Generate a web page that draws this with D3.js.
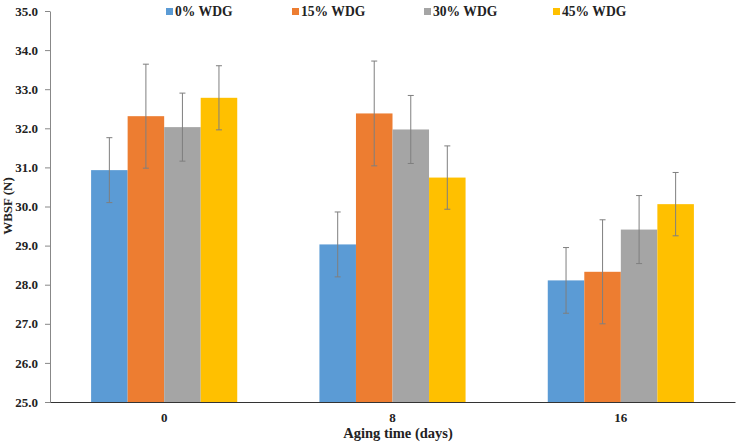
<!DOCTYPE html>
<html><head><meta charset="utf-8">
<script src="https://cdn.jsdelivr.net/npm/d3@7"></script>
<style>body{margin:0;background:#fff}svg{display:block}text{font-family:"Liberation Serif","Times New Roman",serif;font-weight:bold;fill:#222}</style>
</head><body><svg id="c" width="736" height="444"></svg>
<script>
const categories = ["0", "8", "16"];
const seriesNames = ["0% WDG", "15% WDG", "30% WDG", "45% WDG"];
const colors = ["#5B9BD5", "#ED7D31", "#A5A5A5", "#FFC000"];
const wdg0 = [30.93, 29.03, 28.11];
const wdg15 = [32.31, 32.38, 28.33];
const wdg30 = [32.03, 31.97, 29.41];
const wdg45 = [32.78, 30.74, 30.06];
const err0 = [0.83, 0.83, 0.84];
const err15 = [1.33, 1.34, 1.33];
const err30 = [0.87, 0.87, 0.87];
const err45 = [0.82, 0.81, 0.81];
const yTicks = [25, 26, 27, 28, 29, 30, 31, 32, 33, 34, 35];

const values = [wdg0, wdg15, wdg30, wdg45];
const errs = [err0, err15, err30, err45];

const svg = d3.select("#c");
const L = 50, R = 735, T = 11, B = 402;
const x = d3.scaleBand().domain(categories).range([L, R]).paddingInner(0.36).paddingOuter(0.18);
const xs = d3.scaleBand().domain(seriesNames).range([0, x.bandwidth()]);
const y = d3.scaleLinear().domain([25, 35]).range([B, T]);

// y axis
const ya = svg.append("g").attr("transform", `translate(${L},0)`)
  .call(d3.axisLeft(y).tickValues(yTicks).tickFormat(d3.format(".1f")).tickSize(5).tickSizeOuter(0));
ya.select(".domain").attr("stroke", "#888");
ya.selectAll(".tick line").attr("stroke", "#888");
ya.selectAll("text").attr("font-size", 13).attr("x", -12).style("fill", "#222");

// bars
const data = [];
categories.forEach((c, i) => seriesNames.forEach((s, j) => data.push({c, s, j, v: values[j][i], e: errs[j][i]})));
svg.append("g").selectAll("rect").data(data).join("rect")
  .attr("x", d => x(d.c) + xs(d.s)).attr("width", xs.bandwidth())
  .attr("y", d => y(d.v)).attr("height", d => y(25) - y(d.v))
  .attr("fill", d => colors[d.j]);

// error bars
const eg = svg.append("g").attr("stroke", "#7f7f7f").attr("stroke-width", 1);
data.forEach(d => {
  const cx = x(d.c) + xs(d.s) + xs.bandwidth() / 2;
  eg.append("line").attr("x1", cx).attr("x2", cx).attr("y1", y(d.v + d.e)).attr("y2", y(d.v - d.e));
  eg.append("line").attr("x1", cx - 3).attr("x2", cx + 3).attr("y1", y(d.v + d.e)).attr("y2", y(d.v + d.e));
  eg.append("line").attr("x1", cx - 3).attr("x2", cx + 3).attr("y1", y(d.v - d.e)).attr("y2", y(d.v - d.e));
});

// x axis
const xa = svg.append("g").attr("transform", `translate(0,${B})`)
  .call(d3.axisBottom(x).tickSize(0).tickSizeOuter(0));
xa.select(".domain").attr("stroke", "#333");
xa.selectAll("text").attr("font-size", 13).attr("dy", 0).attr("y", 20).style("fill", "#222");

// axis titles
svg.append("text").attr("x", 398).attr("y", 438).attr("text-anchor", "middle").attr("font-size", 14.5).text("Aging time (days)");
svg.append("text").attr("transform", `translate(12,206) rotate(-90)`).attr("text-anchor", "middle").attr("font-size", 13).text("WBSF (N)");

// legend
const legX = [166, 292, 424, 553];
const lg = svg.append("g");
seriesNames.forEach((s, j) => {
  lg.append("rect").attr("x", legX[j]).attr("y", 8).attr("width", 7).attr("height", 7).attr("fill", colors[j]);
  lg.append("text").attr("x", legX[j] + 9).attr("y", 16).attr("font-size", 13.6).text(s);
});
</script></body></html>
